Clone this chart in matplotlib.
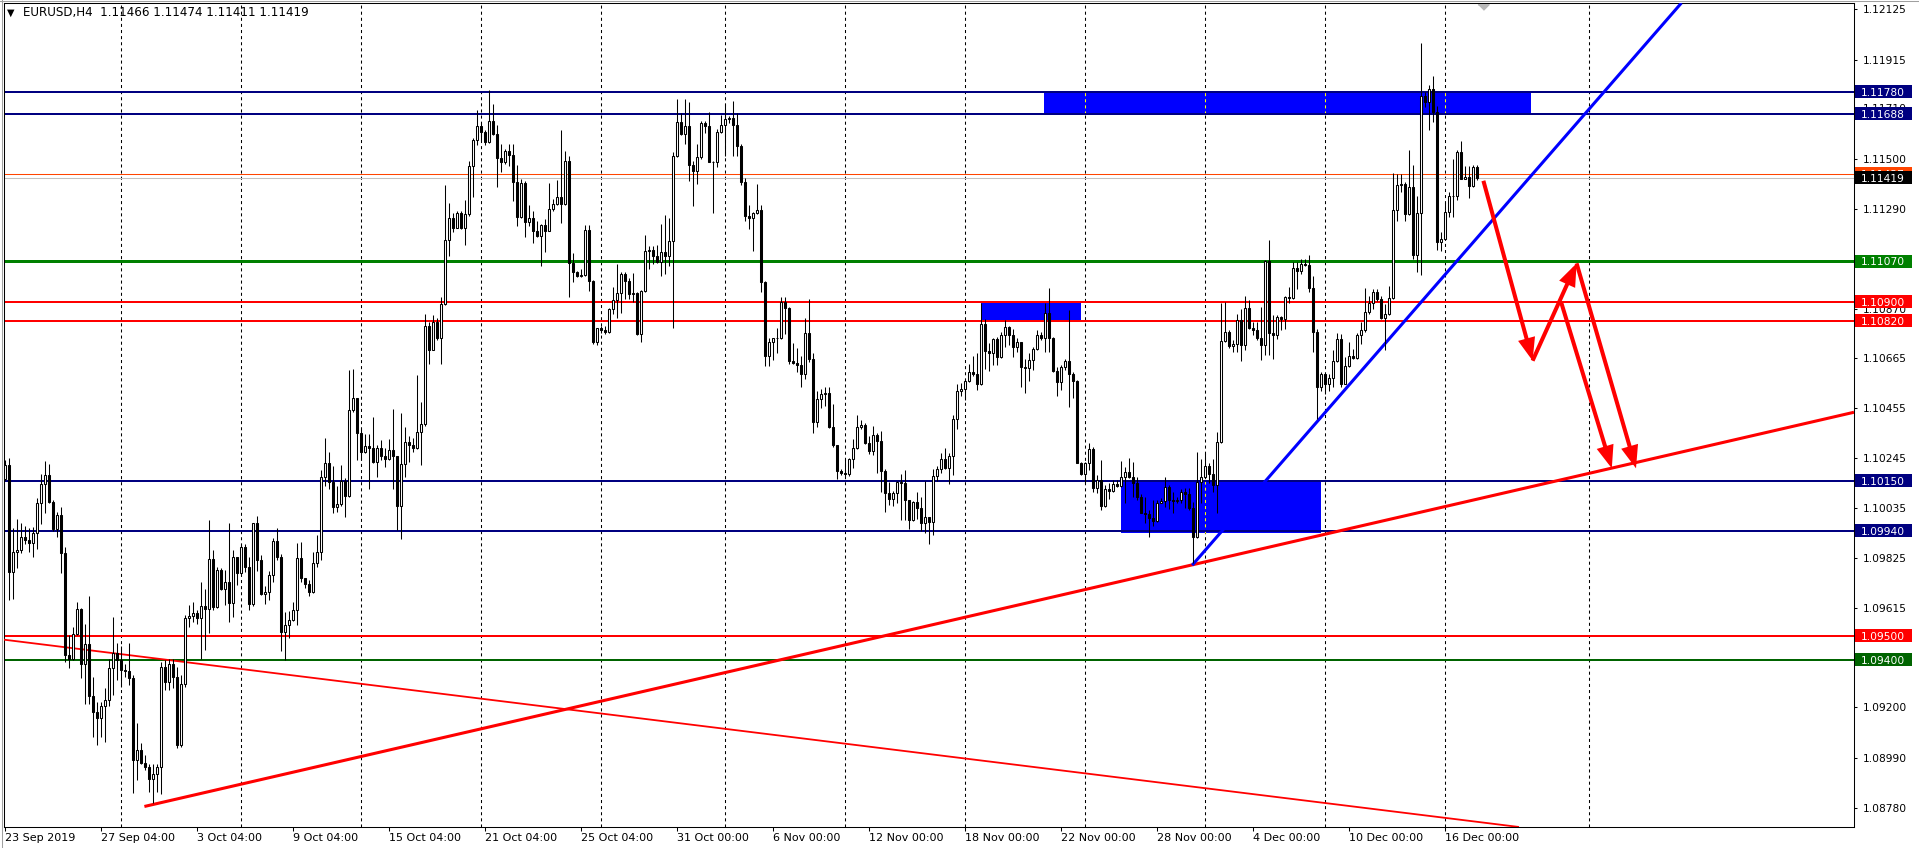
import numpy as np
import matplotlib
matplotlib.use("Agg")
import matplotlib.pyplot as plt
import matplotlib.transforms as mtransforms
from matplotlib.patches import Rectangle, FancyArrowPatch, ArrowStyle
from matplotlib.lines import Line2D

plt.rcParams['font.family'] = ['DejaVu Sans']
plt.rcParams['lines.scale_dashes'] = False

# ---------------- data ----------------
symbol = "EURUSD"
timeframe = "H4"
first_open = 1.10158

closes = [
 1.10214,1.09766,1.09852,1.09859,1.09915,1.09901,1.09890,1.09929,1.10055,1.10136,
 1.10172,1.10062,1.09946,1.10006,1.09848,1.09419,1.09401,1.09506,1.09611,1.09384,
 1.09464,1.09248,1.09182,1.09154,1.09206,1.09231,1.09364,1.09430,1.09398,1.09359,
 1.09354,1.09322,1.08979,1.09021,1.08968,1.08951,1.08902,1.08923,1.08949,1.09370,
 1.09308,1.09384,1.09326,1.09042,1.09298,1.09573,1.09583,1.09594,1.09573,1.09625,
 1.09611,1.09820,1.09622,1.09778,1.09695,1.09727,1.09636,1.09829,1.09762,1.09871,
 1.09790,1.09632,1.09971,1.09816,1.09676,1.09684,1.09753,1.09896,1.09831,1.09516,
 1.09547,1.09567,1.09609,1.09826,1.09741,1.09718,1.09684,1.09806,1.09850,1.10166,
 1.10226,1.10145,1.10039,1.10052,1.10148,1.10086,1.10448,1.10497,1.10350,1.10269,
 1.10297,1.10288,1.10230,1.10288,1.10254,1.10241,1.10277,1.10254,1.10044,1.10220,
 1.10313,1.10300,1.10288,1.10354,1.10389,1.10797,1.10696,1.10816,1.10747,1.10890,
 1.11157,1.11252,1.11209,1.11274,1.11209,1.11268,1.11468,1.11577,1.11636,1.11612,
 1.11570,1.11659,1.11602,1.11504,1.11484,1.11533,1.11515,1.11400,1.11257,1.11397,
 1.11235,1.11253,1.11197,1.11174,1.11221,1.11197,1.11288,1.11309,1.11337,1.11309,
 1.11491,1.11062,1.11026,1.11006,1.11012,1.11200,1.10988,1.10730,1.10788,1.10782,
 1.10774,1.10869,1.10908,1.10935,1.11016,1.10985,1.10932,1.10935,1.10764,1.10946,
 1.11111,1.11118,1.11090,1.11065,1.11107,1.11090,1.11153,1.11509,1.11654,1.11603,
 1.11635,1.11473,1.11449,1.11505,1.11649,1.11635,1.11487,1.11484,1.11610,1.11642,
 1.11665,1.11668,1.11640,1.11551,1.11403,1.11260,1.11249,1.11271,1.11284,1.10984,
 1.10671,1.10733,1.10747,1.10750,1.10900,1.10872,1.10652,1.10643,1.10634,1.10597,
 1.10771,1.10660,1.10397,1.10491,1.10513,1.10517,1.10377,1.10299,1.10191,1.10181,
 1.10177,1.10243,1.10289,1.10377,1.10383,1.10307,1.10275,1.10341,1.10317,1.10191,
 1.10100,1.10073,1.10098,1.10143,1.10140,1.10070,1.09986,1.10062,1.10034,1.09975,
 1.10000,1.09978,1.10171,1.10198,1.10243,1.10205,1.10254,1.10410,1.10527,1.10534,
 1.10569,1.10604,1.10598,1.10555,1.10806,1.10695,1.10684,1.10742,1.10670,1.10760,
 1.10793,1.10760,1.10712,1.10733,1.10625,1.10622,1.10656,1.10700,1.10760,1.10747,
 1.10851,1.10747,1.10611,1.10565,1.10628,1.10653,1.10597,1.10569,1.10226,1.10178,
 1.10226,1.10281,1.10118,1.10153,1.10044,1.10114,1.10108,1.10136,1.10130,1.10164,
 1.10188,1.10167,1.10139,1.10083,1.10016,1.10010,1.09992,1.09982,1.10058,1.10066,
 1.10125,1.10069,1.10066,1.10069,1.10104,1.10094,1.10034,1.09913,1.10146,1.10164,
 1.10212,1.10178,1.10132,1.10314,1.10737,1.10775,1.10714,1.10723,1.10822,1.10717,
 1.10873,1.10789,1.10783,1.10748,1.10717,1.11070,1.10770,1.10762,1.10836,1.10829,
 1.10920,1.10916,1.11041,1.11031,1.11059,1.11055,1.10957,1.10773,1.10542,1.10598,
 1.10556,1.10580,1.10650,1.10745,1.10556,1.10630,1.10672,1.10664,1.10762,1.10780,
 1.10856,1.10896,1.10943,1.10910,1.10831,1.10850,1.10916,1.11283,1.11390,1.11394,
 1.11269,1.11380,1.11094,1.11273,1.11762,1.11737,1.11793,1.11695,1.11150,1.11161,
 1.11278,1.11345,1.11343,1.11527,1.11415,1.11422,1.11385,1.11466,1.11419,
]

highs = [
 1.10239,1.10244,1.09950,1.09989,1.09971,1.09960,1.09950,1.09957,1.10076,1.10178,
 1.10232,1.10220,1.10069,1.10020,1.10041,1.09873,1.09503,1.09538,1.09640,1.09615,
 1.09549,1.09667,1.09329,1.09224,1.09224,1.09280,1.09405,1.09577,1.09468,1.09457,
 1.09384,1.09468,1.09336,1.09133,1.09049,1.09000,1.08963,1.08965,1.08965,1.09391,
 1.09398,1.09405,1.09401,1.09370,1.09336,1.09587,1.09629,1.09643,1.09608,1.09727,
 1.09695,1.09985,1.09859,1.09787,1.09783,1.09776,1.09971,1.09859,1.09831,1.09887,
 1.09887,1.09831,1.09974,1.10002,1.09837,1.09710,1.09772,1.09909,1.09951,1.09842,
 1.09601,1.09604,1.09640,1.09889,1.09893,1.09741,1.09733,1.09853,1.09924,1.10195,
 1.10328,1.10269,1.10210,1.10130,1.10215,1.10160,1.10615,1.10620,1.10494,1.10370,
 1.10347,1.10347,1.10417,1.10300,1.10319,1.10288,1.10323,1.10452,1.10254,1.10435,
 1.10375,1.10339,1.10331,1.10592,1.10479,1.10847,1.10816,1.10844,1.10831,1.10921,
 1.11390,1.11313,1.11271,1.11279,1.11279,1.11325,1.11488,1.11586,1.11702,1.11651,
 1.11620,1.11786,1.11728,1.11640,1.11561,1.11540,1.11561,1.11561,1.11473,1.11414,
 1.11407,1.11305,1.11281,1.11239,1.11225,1.11246,1.11397,1.11330,1.11411,1.11621,
 1.11533,1.11512,1.11104,1.11030,1.11037,1.11223,1.11221,1.10991,1.10792,1.10799,
 1.10799,1.10872,1.10960,1.11058,1.11026,1.11026,1.10999,1.11020,1.10939,1.10949,
 1.11180,1.11135,1.11135,1.11137,1.11225,1.11263,1.11249,1.11528,1.11749,1.11693,
 1.11749,1.11738,1.11491,1.11561,1.11658,1.11658,1.11696,1.11491,1.11623,1.11682,
 1.11728,1.11679,1.11742,1.11693,1.11560,1.11417,1.11305,1.11277,1.11393,1.11305,
 1.10988,1.10750,1.10750,1.10792,1.10918,1.10918,1.10876,1.10729,1.10708,1.10673,
 1.10830,1.10911,1.10687,1.10526,1.10534,1.10541,1.10541,1.10470,1.10299,1.10198,
 1.10240,1.10247,1.10324,1.10425,1.10405,1.10394,1.10338,1.10380,1.10352,1.10359,
 1.10198,1.10143,1.10108,1.10150,1.10178,1.10196,1.10070,1.10066,1.10101,1.10080,
 1.10150,1.10000,1.10198,1.10212,1.10268,1.10289,1.10268,1.10425,1.10555,1.10559,
 1.10578,1.10638,1.10673,1.10687,1.10893,1.10827,1.10728,1.10747,1.10754,1.10775,
 1.10823,1.10798,1.10784,1.10747,1.10733,1.10659,1.10684,1.10709,1.10782,1.10775,
 1.10893,1.10956,1.10754,1.10628,1.10635,1.10659,1.10865,1.10607,1.10572,1.10230,
 1.10230,1.10307,1.10293,1.10174,1.10237,1.10132,1.10139,1.10153,1.10153,1.10234,
 1.10209,1.10244,1.10230,1.10167,1.10094,1.10083,1.10027,1.10069,1.10069,1.10076,
 1.10167,1.10132,1.10104,1.10083,1.10114,1.10118,1.10118,1.10062,1.10272,1.10240,
 1.10265,1.10223,1.10240,1.10355,1.10896,1.10900,1.10782,1.10740,1.10850,1.10870,
 1.10926,1.10906,1.10815,1.10815,1.10879,1.11073,1.11157,1.10843,1.10845,1.10840,
 1.10926,1.10961,1.11066,1.11066,1.11080,1.11080,1.11094,1.11010,1.10787,1.10605,
 1.10591,1.10598,1.10696,1.10770,1.10766,1.10668,1.10731,1.10703,1.10770,1.10815,
 1.10957,1.10926,1.10954,1.10954,1.10926,1.10891,1.10968,1.11441,1.11436,1.11436,
 1.11401,1.11538,1.11474,1.11345,1.11985,1.11779,1.11809,1.11848,1.11720,1.11192,
 1.11318,1.11359,1.11499,1.11534,1.11572,1.11471,1.11471,1.11474,1.11474,
]

lows = [
 1.10153,1.09650,1.09654,1.09785,1.09848,1.09883,1.09852,1.09829,1.09862,1.09968,
 1.10013,1.10055,1.09940,1.09915,1.09762,1.09391,1.09364,1.09398,1.09503,1.09322,
 1.09214,1.09214,1.09077,1.09042,1.09077,1.09056,1.09206,1.09252,1.09315,1.09287,
 1.09329,1.09294,1.08840,1.08898,1.08965,1.08937,1.08847,1.08798,1.08847,1.08837,
 1.09273,1.09273,1.09280,1.09032,1.09035,1.09284,1.09538,1.09559,1.09549,1.09405,
 1.09440,1.09513,1.09608,1.09615,1.09692,1.09629,1.09559,1.09580,1.09713,1.09776,
 1.09769,1.09609,1.09625,1.09772,1.09670,1.09632,1.09651,1.09726,1.09816,1.09438,
 1.09399,1.09489,1.09562,1.09547,1.09726,1.09702,1.09667,1.09679,1.09788,1.09819,
 1.10126,1.10114,1.10013,1.10021,1.10044,1.09997,1.10083,1.10440,1.10238,1.10238,
 1.10266,1.10114,1.10225,1.10166,1.10238,1.10207,1.10238,1.10117,1.09943,1.09904,
 1.10164,1.10230,1.10272,1.10285,1.10215,1.10381,1.10639,1.10696,1.10738,1.10639,
 1.10887,1.11092,1.11193,1.11216,1.11204,1.11139,1.11260,1.11341,1.11558,1.11570,
 1.11558,1.11566,1.11597,1.11379,1.11442,1.11477,1.11470,1.11323,1.11218,1.11253,
 1.11170,1.11218,1.11148,1.11170,1.11050,1.11109,1.11195,1.11281,1.11305,1.11232,
 1.11305,1.10922,1.10981,1.11002,1.11002,1.11009,1.10946,1.10722,1.10720,1.10771,
 1.10764,1.10771,1.10848,1.10834,1.10855,1.10911,1.10911,1.10897,1.10760,1.10730,
 1.10939,1.11037,1.11058,1.11062,1.11009,1.11016,1.11050,1.10792,1.11505,1.11598,
 1.11561,1.11407,1.11302,1.11393,1.11498,1.11607,1.11484,1.11274,1.11463,1.11607,
 1.11512,1.11651,1.11512,1.11512,1.11389,1.11239,1.11204,1.11113,1.11267,1.10942,
 1.10632,1.10629,1.10657,1.10687,1.10743,1.10764,1.10638,1.10638,1.10604,1.10541,
 1.10576,1.10646,1.10352,1.10377,1.10453,1.10464,1.10373,1.10293,1.10159,1.10173,
 1.10170,1.10170,1.10205,1.10282,1.10366,1.10303,1.10261,1.10257,1.10184,1.10103,
 1.10017,1.10048,1.10045,1.10056,1.09986,1.09986,1.09947,1.09982,1.09989,1.09940,
 1.09933,1.09884,1.09922,1.10150,1.10184,1.10198,1.10136,1.10173,1.10366,1.10506,
 1.10490,1.10562,1.10590,1.10531,1.10551,1.10618,1.10611,1.10635,1.10635,1.10663,
 1.10712,1.10719,1.10670,1.10691,1.10544,1.10516,1.10569,1.10614,1.10698,1.10740,
 1.10691,1.10691,1.10607,1.10505,1.10530,1.10614,1.10457,1.10495,1.10223,1.10174,
 1.10139,1.10195,1.10104,1.10097,1.10027,1.10038,1.10072,1.10104,1.10125,1.10122,
 1.10058,1.10160,1.10083,1.10069,1.10013,1.09971,1.09915,1.09960,1.09978,1.10055,
 1.10040,1.10030,1.10016,1.10055,1.10055,1.10034,1.10027,1.09804,1.09908,1.10055,
 1.10160,1.10139,1.10104,1.10013,1.10310,1.10733,1.10705,1.10691,1.10689,1.10650,
 1.10696,1.10787,1.10759,1.10738,1.10658,1.10675,1.10675,1.10661,1.10742,1.10780,
 1.10787,1.10896,1.10912,1.10954,1.11016,1.11049,1.10940,1.10689,1.10409,1.10528,
 1.10514,1.10528,1.10542,1.10647,1.10542,1.10556,1.10626,1.10661,1.10661,1.10724,
 1.10773,1.10850,1.10871,1.10905,1.10829,1.10696,1.10843,1.10912,1.11237,1.11359,
 1.11237,1.11262,1.11080,1.11024,1.11013,1.11716,1.11618,1.11653,1.11115,1.11111,
 1.11157,1.11255,1.11255,1.11325,1.11413,1.11415,1.11334,1.11380,1.11411,
]

time_labels = ["23 Sep 2019", "27 Sep 04:00", "3 Oct 04:00", "9 Oct 04:00",
               "15 Oct 04:00", "21 Oct 04:00", "25 Oct 04:00", "31 Oct 00:00",
               "6 Nov 00:00", "12 Nov 00:00", "18 Nov 00:00", "22 Nov 00:00",
               "28 Nov 00:00", "4 Dec 00:00", "10 Dec 00:00", "16 Dec 00:00"]
time_label_bars = [0, 24, 48, 72, 96, 120, 144, 168, 192, 216, 240, 264, 288, 312, 336, 360]
grid_bars = [29, 59, 89, 119, 149, 180, 210, 240, 270, 300, 330, 360, 396]

price_ticks = [1.12125, 1.11915, 1.11710, 1.11500, 1.11290, 1.11080, 1.10870, 1.10665,
               1.10455, 1.10245, 1.10035, 1.09825, 1.09615, 1.09405, 1.09200, 1.08990, 1.08780]

level_prices = [1.11780, 1.11688, 1.11070, 1.10900, 1.10820, 1.10150, 1.09940, 1.09500, 1.09400]
ask_price = 1.11437

rect_bar_from = [259.75, 244.0, 279.0]
rect_bar_to = [381.5, 269.0, 328.9]
rect_price_lo = [1.11688, 1.10820, 1.09933]
rect_price_hi = [1.11780, 1.10900, 1.10150]

trend_red_up_bars = [34.85, 462.25]
trend_red_up_prices = [1.08785, 1.10437]
trend_red_down_bars = [-0.25, 378.5]
trend_red_down_prices = [1.09484, 1.08699]
trend_blue_bars = [296.8, 419.1]
trend_blue_prices = [1.09796, 1.12152]

arrow_from_bars = [369.6, 381.9, 392.9, 389.0]
arrow_from_prices = [1.11407, 1.10653, 1.11061, 1.10900]
arrow_to_bars = [381.9, 392.9, 407.75, 401.7]
arrow_to_prices = [1.10653, 1.11061, 1.10202, 1.10202]

shift_marker_bar = 369.4

# ---------------- styles ----------------
NAVY = '#000080'
RED = '#FF0000'
GREEN = '#008000'
DKGREEN = '#006400'
level_colors = [NAVY, NAVY, GREEN, RED, RED, NAVY, NAVY, RED, DKGREEN]
level_widths = [1.44, 1.44, 2.16, 1.44, 1.44, 1.44, 1.44, 1.44, 1.44]
ASK_COLOR = '#FF4500'
BID_COLOR = '#C0C0C0'

W, H = 1919, 848
fig = plt.figure(figsize=(W / 100, H / 100), dpi=100)
fig.patch.set_facecolor('white')
ax = fig.add_axes([4 / W, (H - 827) / H, 1850 / W, 824 / H])
ax.set_facecolor('white')
YMIN, YMAX = 1.08699, 1.12152
XMIN, XMAX = -0.25, 462.25

c = np.array(closes)
h = np.array(highs)
l = np.array(lows)
o = np.concatenate([[first_open], c[:-1]])
h = np.maximum(h, np.maximum(o, c))
l = np.minimum(l, np.minimum(o, c))
x = np.arange(len(c))

# grid
for gb in grid_bars:
    ax.axvline(gb, color='black', lw=0.75, ls=(0, (2.2, 2.2)), zorder=0.5)

# rectangles
for b0, b1, p0, p1 in zip(rect_bar_from, rect_bar_to, rect_price_lo, rect_price_hi):
    ax.add_patch(Rectangle((b0, p0), b1 - b0, p1 - p0, fc='#0000FF', ec='none', zorder=1))
    for gb in grid_bars:
        if b0 < gb < b1:
            ax.plot([gb, gb], [p0, p1], color='#FFFF00', lw=0.75, ls=(0, (2.2, 2.2)), zorder=1.2)

# horizontal levels
for p, col, lw in zip(level_prices, level_colors, level_widths):
    ax.axhline(p, color=col, lw=lw, zorder=2)
ax.axhline(ask_price, color=ASK_COLOR, lw=0.75, zorder=2)
ax.axhline(c[-1], color=BID_COLOR, lw=0.75, zorder=2)

# trend lines
ax.plot(trend_red_up_bars, trend_red_up_prices, color=RED, lw=2.2, zorder=3, solid_capstyle='butt')
ax.plot(trend_red_down_bars, trend_red_down_prices, color=RED, lw=1.3, zorder=3, solid_capstyle='butt')
ax.plot(trend_blue_bars, trend_blue_prices, color='#0000FF', lw=2.2, zorder=3, solid_capstyle='butt')

# candles
ax.vlines(x, l, h, color='black', lw=0.75, zorder=5)
body_lo = np.minimum(o, c)
body_h = np.maximum(np.abs(c - o), 0.00002)
up = c >= o
ax.bar(x, body_h, bottom=body_lo, width=0.5,
       color=np.where(up, 'white', 'black'), edgecolor='black', linewidth=0.75, zorder=6)

# arrows
astyle = ArrowStyle('-|>', head_length=11, head_width=4.2)
for xa, ya, xb, yb in zip(arrow_from_bars, arrow_from_prices, arrow_to_bars, arrow_to_prices):
    ax.add_patch(FancyArrowPatch((xa, ya), (xb, yb), arrowstyle=astyle, mutation_scale=1,
                                 lw=2.9, color=RED, shrinkA=0, shrinkB=0, zorder=7,
                                 joinstyle='miter', capstyle='butt'))

# chart shift marker
ax.plot([shift_marker_bar], [1 - 3.5 / 824], marker=[(-1, 0.5), (1, 0.5), (0, -0.5)],
        ms=8, color='#B8B8B8', mec='#B8B8B8', ls='none', zorder=9, clip_on=False,
        transform=mtransforms.blended_transform_factory(ax.transData, ax.transAxes))

ax.set_xlim(XMIN, XMAX)
ax.set_ylim(YMIN, YMAX)
ax.set_autoscale_on(False)

# axes styling
for sp in ax.spines.values():
    sp.set_color('black')
    sp.set_linewidth(0.75)
ax.yaxis.tick_right()
ax.set_yticks(price_ticks)
ax.set_yticklabels([f"{p:.5f}" for p in price_ticks])
ax.tick_params(axis='y', which='both', right=True, left=False, length=2.5, width=0.75,
               pad=3.6, labelsize=7.7, colors='black')
ax.set_xticks(time_label_bars)
ax.set_xticklabels(time_labels)
for lbl in ax.get_xticklabels():
    lbl.set_horizontalalignment('left')
ax.tick_params(axis='x', which='both', bottom=True, length=3, width=0.75, pad=1.5,
               labelsize=8, colors='black')

# price boxes on the right scale
ppu = 824 / (YMAX - YMIN)
bh = 13 / ppu
trans = mtransforms.blended_transform_factory(fig.transFigure, ax.transData)


def price_box(price, color, z):
    ax.add_patch(Rectangle((1855 / W, price - bh / 2), 57 / W, bh, transform=trans,
                           fc=color, ec='none', clip_on=False, zorder=z))
    ax.text(1861 / W, price, f"{price:.5f}", transform=trans, color='white', fontsize=7.7,
            va='center_baseline', ha='left', zorder=z + 0.1, clip_on=False)


zb = 20
for p, col in zip(level_prices, level_colors):
    price_box(p, col, zb)
    zb += 1
price_box(ask_price, ASK_COLOR, zb)
price_box(c[-1], 'black', zb + 1)

# title
fig.text(7 / W, 1 - 12.5 / H, "\u25BC", fontsize=7, va='center', ha='left', color='black')
fig.text(23 / W, 1 - 12.5 / H,
         f"{symbol},{timeframe}  {o[-1]:.5f} {h[-1]:.5f} {l[-1]:.5f} {c[-1]:.5f}",
         fontsize=8.6, va='center', ha='left', color='black')

# outer frame
fig.add_artist(Line2D([1.5 / W, 1.5 / W], [0, 1], transform=fig.transFigure, color='#A0A0A0', lw=0.75))
fig.add_artist(Line2D([0, 1], [1 - 1 / H, 1 - 1 / H], transform=fig.transFigure, color='#A0A0A0', lw=0.75))

fig.savefig("out.png", dpi=100, facecolor='white')
